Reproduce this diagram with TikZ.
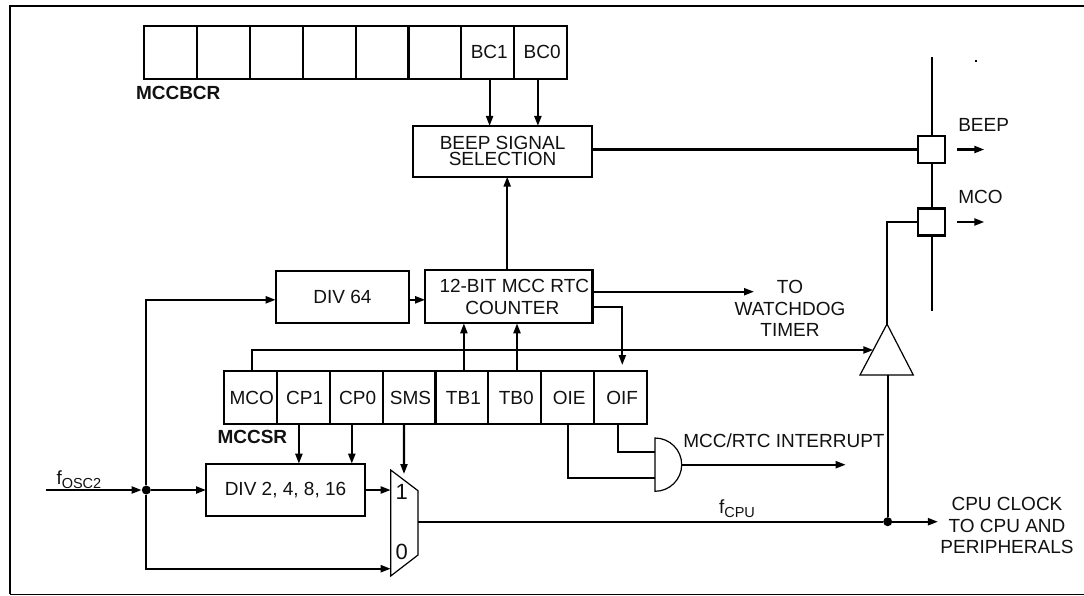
\documentclass[tikz,border=0pt]{standalone}
\usepackage{fontspec}
\setmainfont{Liberation Sans}
\usepackage{xcolor}
\definecolor{cLine}{HTML}{000000}
\definecolor{cText}{HTML}{111111}
\usepackage{tikz}
\usetikzlibrary{positioning,arrows.meta}
\newcommand{\lblfont}{\fontsize{19}{21.6}\selectfont}
\newcommand{\subtxt}[1]{\raisebox{-4.5pt}{\fontsize{14.5}{14.5}\selectfont #1}}
\tikzset{
  node-box/.style={draw=cLine,line width=2.1pt,outer sep=0pt,inner sep=0pt,
    align=center,text=cText,font=\lblfont},
  node-reg/.style={node-box,minimum width=52.9pt,minimum height=53pt,
    execute at begin node=\hspace*{3pt}},
  node-pad/.style={node-box,fill=white,minimum width=27.6pt,minimum height=27pt},
  node-label/.style={inner sep=0pt,outer sep=0pt,align=center,text=cText,font=\lblfont},
  node-regname/.style={inner sep=0pt,outer sep=0pt,text=cText,font=\lblfont\bfseries},
  node-dot/.style={circle,fill=cLine,inner sep=0pt,minimum size=9pt},
  wire/.style={line width=2.1pt,draw=cLine},
  arrow/.style={wire,-{Stealth[length=10pt,width=7pt,inset=0pt]}},
  thin-part/.style={line width=1.2pt,draw=cLine,fill=white},
}
\begin{document}
\begin{tikzpicture}[x=1pt,y=-1pt]
  \useasboundingbox (0,0) rectangle (1084,595);
  % frame is open on the right
  \draw[line width=2.2pt,draw=cLine] (1084,5.7) -- (9.9,5.7) -- (9.9,594.3);
  \draw[line width=1.4pt,draw=cLine] (9.9,594.3) -- (1084,594.3);

  % beep control register
  \node[node-reg] (bcr7) at (170.4,52.3) {};
  \foreach \cur/\prev/\txt in {bcr6/bcr7/,bcr5/bcr6/,bcr4/bcr5/,bcr3/bcr4/,bcr2/bcr3/,bc1/bcr2/BC1,bc0/bc1/BC0}
    \node[node-reg,right=0pt of \prev] (\cur) {\txt};
  \node[node-regname,anchor=west] (bcrname) at (136,93) {MCCBCR};

  % control/status register
  \node[node-reg] (mco) at (250.3,397.5) {MCO};
  \foreach \cur/\prev/\txt in {cp1/mco/CP1,cp0/cp1/CP0,sms/cp0/SMS,tb1/sms/TB1,tb0/tb1/TB0,oie/tb0/OIE,oif/oie/OIF}
    \node[node-reg,right=0pt of \prev] (\cur) {\txt};
  \node[node-regname,anchor=west] (csrname) at (217.5,437.3) {MCCSR};

  \node[node-box,minimum width=179.5pt,minimum height=50.7pt,
    font=\fontsize{19}{15.8}\selectfont] (beep) at (502.6,151.3) {BEEP SIGNAL\\SELECTION};
  \node[node-box,minimum width=133.5pt,minimum height=52.3pt] (div64) at (342.4,296.8) {DIV 64};
  \node[node-box,right=16pt of div64,minimum width=167.3pt,minimum height=53pt] (counter)
    {\hspace*{11pt}12-BIT MCC RTC\\\hspace*{7pt}COUNTER};
  \node[node-box,minimum width=159pt,minimum height=52.7pt] (div4) at (285.5,490) {DIV 2, 4, 8, 16};

  % output pins on the port line
  \coordinate (bustop) at (932,57);
  \coordinate (busend) at (932,310.7);
  \draw[wire] (bustop) -- (busend);
  \node[node-pad] (padbeep) at (931.5,149.5) {};
  \node[node-pad,below=45.5pt of padbeep] (padmco) {};
  \node[node-label,anchor=west] (beepname) at (958.3,125.3) {BEEP};
  \node[node-label,anchor=west] (mconame) at (958.3,197) {MCO};
  \node[fill=cLine,inner sep=0pt,minimum size=2pt] (speck) at (976,61) {};

  % selector
  \coordinate (mux1) at (390.7,490);
  \coordinate (mux0) at (390.7,568.7);
  \coordinate (muxout) at (418,521.7);
  \coordinate (muxsel) at (404,474);
  \draw[thin-part] (390.7,470) -- (418,490.7) -- (418,555) -- (390.7,576) -- cycle;
  \node[node-label,font=\fontsize{22}{22}\selectfont] (muxone) at (401.7,491.7) {1};
  \node[node-label,font=\fontsize{22}{22}\selectfont] (muxzero) at (401.7,552) {0};

  % output buffer and interrupt gate
  \coordinate (buftop) at (887,324);
  \coordinate (bufin) at (873.3,350);
  \coordinate (bufbase) at (887.7,375);
  \draw[thin-part] (buftop) -- (913.3,375) -- (860,375) -- cycle;
  \coordinate (gatein1) at (655,451.7);
  \coordinate (gatein2) at (655,478);
  \coordinate (gateout) at (681.7,464.7);
  \draw[thin-part] (655,438) arc[start angle=90,end angle=-90,x radius=26.7pt,y radius=26.65pt] -- cycle;

  \node[node-dot] (dotosc) at (146.3,490) {};
  \node[node-dot] (dotcpu) at (887.7,521.7) {};
  \coordinate (oscin) at (45.5,490);
  \node[node-label,anchor=base west] (oscname) at (56.5,484) {f\subtxt{OSC2}};
  \node[node-label,anchor=base west] (cpuname) at (719,513.3) {f\subtxt{CPU}};
  \node[node-label] (cpuclk) at (1007,525.5) {CPU CLOCK\\TO CPU AND\\PERIPHERALS};
  \node[node-label] (wdog) at (790,308.7) {TO\\WATCHDOG\\TIMER};
  \coordinate (wdogin) at (754,291.7);
  \node[node-label,anchor=west] (irqname) at (683.3,441) {MCC/RTC INTERRUPT};
  \coordinate (irqout) at (845.7,464.7);

  \draw[arrow] ([xshift=1.8pt]bc1.south) -- ([xshift=1.8pt]bc1.south |- beep.north);
  \draw[arrow] ([xshift=-2.8pt]bc0.south) -- ([xshift=-2.8pt]bc0.south |- beep.north);
  \draw[wire] (beep.east |- padbeep) -- (padbeep.west);
  \draw[arrow] ([xshift=-1.6pt]counter.north) -- ([xshift=-1.6pt]counter.north |- beep.south);
  \draw[arrow] (dotosc) |- ([yshift=-3pt]div64.west);
  \draw[arrow] ([yshift=-3pt]div64.east) -- ([yshift=-3pt]counter.west);
  \draw[arrow] ([yshift=5.1pt]counter.east) -- (wdogin);
  \draw[arrow] ([yshift=-10.5pt]counter.east) -| ([xshift=1.7pt,yshift=6pt]oif.north);
  \draw[arrow] ([xshift=2pt]mco.north) |- (bufin);
  \draw[arrow] ([xshift=2pt]tb1.north) -- ([xshift=2pt]tb1.north |- counter.south);
  \draw[arrow] ([xshift=2.2pt]tb0.north) -- ([xshift=2.2pt]tb0.north |- counter.south);
  \draw[arrow] ([xshift=-4.3pt]cp1.south) -- ([xshift=-4.3pt]cp1.south |- div4.north);
  \draw[arrow] ([xshift=-4.3pt]cp0.south) -- ([xshift=-4.3pt]cp0.south |- div4.north);
  \draw[arrow] ([xshift=-5pt]sms.south) -- (muxsel);
  \draw[wire] ([xshift=0.7pt]oie.south) |- (gatein2);
  \draw[wire] ([xshift=-2.6pt]oif.south) |- (gatein1);
  \draw[arrow] (gateout) -- (irqout);
  \draw[arrow] (oscin) -- (dotosc);
  \draw[arrow] (dotosc) -- (div4.west);
  \draw[arrow] (div4.east) -- (mux1);
  \draw[arrow] (dotosc) |- (mux0);
  \draw[wire] (muxout) -- (dotcpu);
  \draw[arrow] (dotcpu) -- ([xshift=-2.5pt]cpuclk.west |- dotcpu);
  \draw[wire] (dotcpu) -- (bufbase);
  \draw[wire] (buftop) |- ([xshift=1.5pt]padmco.west);
  \draw[arrow] ([xshift=12pt]padbeep.east) -- ([xshift=39pt]padbeep.east);
  \draw[arrow] ([xshift=12pt]padmco.east) -- ([xshift=39pt]padmco.east);
\end{tikzpicture}
\end{document}
